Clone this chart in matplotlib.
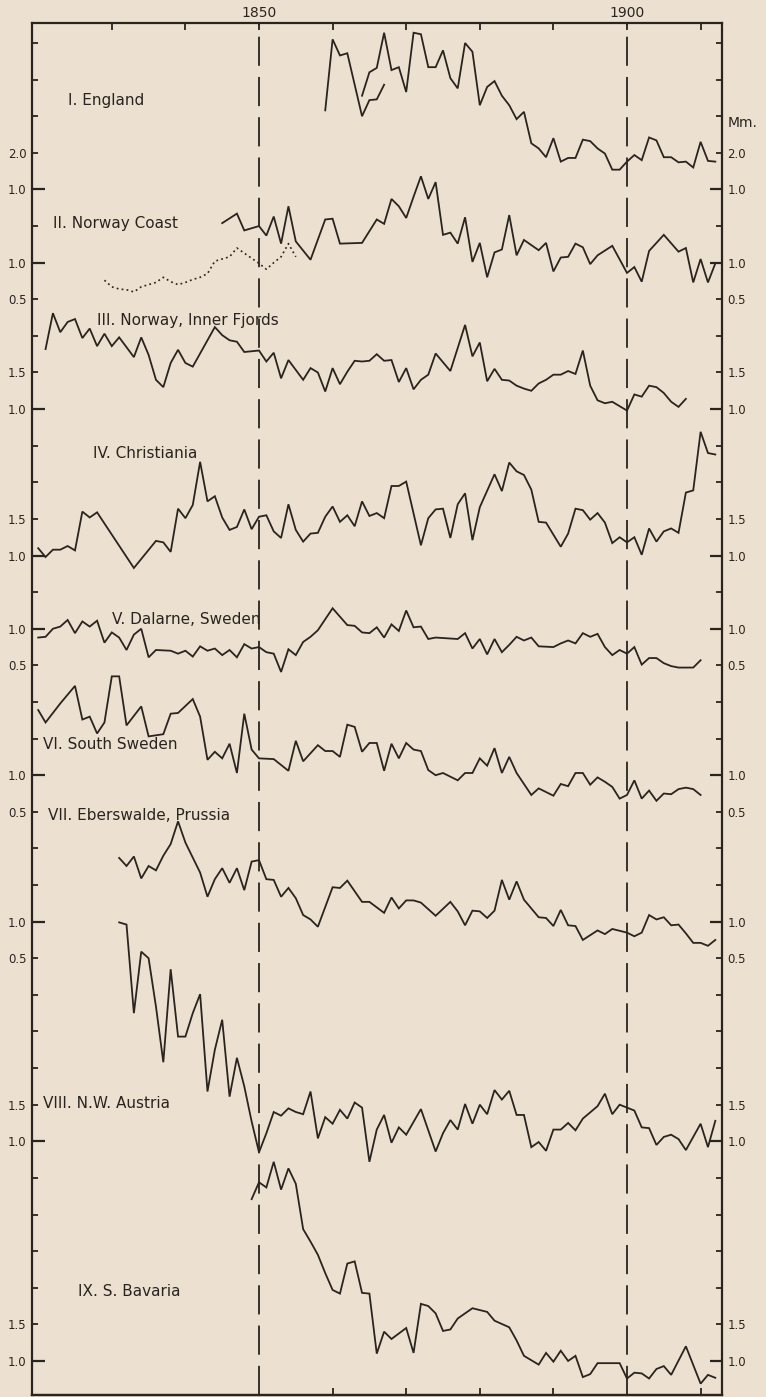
import matplotlib
matplotlib.use("Agg")
import matplotlib.pyplot as plt

plt.rcParams['font.family'] = ['DejaVu Sans']
plt.rcParams['lines.scale_dashes'] = False

# ---------------- data (ring width, mm) ----------------
england_a_years = [1859, 1860, 1861, 1862, 1864, 1865, 1866, 1867]
england_a_mm = [2.58, 3.55, 3.33, 3.36, 2.50, 2.72, 2.73, 2.93]

england_b_years = list(range(1864, 1913))
england_b_mm = [2.78, 3.10, 3.16, 3.64, 3.13, 3.17, 2.83, 3.64, 3.62, 3.17,
                3.17, 3.40, 3.02, 2.88, 3.50, 3.38, 2.65, 2.90, 2.98, 2.78,
                2.65, 2.46, 2.56, 2.13, 2.06, 1.94, 2.20, 1.88, 1.93, 1.93,
                2.18, 2.16, 2.06, 1.99, 1.77, 1.77, 1.88, 1.97, 1.90, 2.21,
                2.17, 1.94, 1.94, 1.87, 1.88, 1.80, 2.15, 1.89, 1.88]

coast_years = [1845, 1847, 1848, 1849, 1850, 1851, 1852, 1853, 1854, 1855,
               1857, 1859, 1860, 1861, 1864, 1866, 1867, 1868, 1869, 1870,
               1871, 1872, 1873, 1874, 1875, 1876, 1877, 1878, 1879, 1880,
               1881, 1882, 1883, 1884, 1885, 1886, 1888, 1889, 1890, 1891,
               1892, 1893, 1894, 1895, 1896, 1898, 1900, 1901, 1902, 1903,
               1905, 1907, 1908, 1909, 1910, 1911, 1912]
coast_mm = [1.54, 1.67, 1.44, 1.47, 1.50, 1.37, 1.63, 1.26, 1.77, 1.29,
            1.04, 1.59, 1.60, 1.26, 1.27, 1.59, 1.53, 1.87, 1.77, 1.61,
            1.90, 2.18, 1.87, 2.10, 1.38, 1.41, 1.26, 1.62, 1.01, 1.27,
            0.80, 1.14, 1.18, 1.65, 1.10, 1.31, 1.17, 1.27, 0.88, 1.07,
            1.08, 1.26, 1.21, 0.98, 1.10, 1.23, 0.86, 0.94, 0.74, 1.16,
            1.38, 1.15, 1.20, 0.73, 1.05, 0.73, 0.99]

coast_dotted_years = list(range(1829, 1856))
coast_dotted_mm = [0.76, 0.67, 0.64, 0.63, 0.60, 0.67, 0.70, 0.73, 0.80, 0.74,
                   0.70, 0.73, 0.77, 0.80, 0.85, 1.02, 1.05, 1.08, 1.20, 1.13,
                   1.06, 0.99, 0.91, 1.00, 1.08, 1.26, 1.08]

fjords_years = [1821, 1822, 1823, 1824, 1825, 1826, 1827, 1828, 1829, 1830,
                1831, 1833, 1834, 1835, 1836, 1837, 1838, 1839, 1840, 1841,
                1844, 1845, 1846, 1847, 1848, 1850, 1851, 1852, 1853, 1854,
                1856, 1857, 1858, 1859, 1860, 1861, 1862, 1863, 1864, 1865,
                1866, 1867, 1868, 1869, 1870, 1871, 1872, 1873, 1874, 1876,
                1878, 1879, 1880, 1881, 1882, 1883, 1884, 1885, 1886, 1887,
                1888, 1889, 1890, 1891, 1892, 1893, 1894, 1895, 1896, 1897,
                1898, 1900, 1901, 1902, 1903, 1904, 1905, 1906, 1907, 1908]
fjords_mm = [1.82, 2.31, 2.05, 2.19, 2.23, 1.97, 2.10, 1.86, 2.03, 1.86,
             1.98, 1.71, 1.98, 1.74, 1.40, 1.30, 1.63, 1.81, 1.63, 1.58,
             2.12, 2.01, 1.94, 1.92, 1.78, 1.80, 1.65, 1.77, 1.42, 1.67,
             1.40, 1.56, 1.50, 1.24, 1.56, 1.34, 1.51, 1.66, 1.65, 1.66,
             1.75, 1.66, 1.67, 1.37, 1.56, 1.27, 1.40, 1.47, 1.76, 1.52,
             2.15, 1.72, 1.91, 1.38, 1.55, 1.40, 1.39, 1.32, 1.28, 1.25,
             1.35, 1.40, 1.47, 1.47, 1.52, 1.48, 1.80, 1.32, 1.12, 1.08,
             1.10, 0.98, 1.20, 1.17, 1.32, 1.30, 1.22, 1.10, 1.03, 1.14]

christiania_years = [1820, 1821, 1822, 1823, 1824, 1825, 1826, 1827, 1828, 1833,
                     1836, 1837, 1838, 1839, 1840, 1841, 1842, 1843, 1844, 1845,
                     1846, 1847, 1848, 1849, 1850, 1851, 1852, 1853, 1854, 1855,
                     1856, 1857, 1858, 1859, 1860, 1861, 1862, 1863, 1864, 1865,
                     1866, 1867, 1868, 1869, 1870, 1872, 1873, 1874, 1875, 1876,
                     1877, 1878, 1879, 1880, 1882, 1883, 1884, 1885, 1886, 1887,
                     1888, 1889, 1891, 1892, 1893, 1894, 1895, 1896, 1897, 1898,
                     1899, 1900, 1901, 1902, 1903, 1904, 1905, 1906, 1907, 1908,
                     1909, 1910, 1911, 1912]
christiania_mm = [1.10, 0.98, 1.08, 1.08, 1.13, 1.07, 1.60, 1.52, 1.59, 0.83,
                  1.20, 1.18, 1.05, 1.64, 1.51, 1.69, 2.28, 1.74, 1.81, 1.52,
                  1.35, 1.39, 1.63, 1.36, 1.53, 1.55, 1.33, 1.24, 1.70, 1.35,
                  1.19, 1.30, 1.31, 1.53, 1.67, 1.46, 1.55, 1.40, 1.74, 1.54,
                  1.58, 1.51, 1.95, 1.95, 2.01, 1.14, 1.51, 1.63, 1.64, 1.24,
                  1.70, 1.85, 1.21, 1.66, 2.11, 1.88, 2.27, 2.15, 2.10, 1.90,
                  1.46, 1.45, 1.12, 1.30, 1.64, 1.62, 1.49, 1.58, 1.45, 1.17,
                  1.25, 1.18, 1.25, 1.01, 1.37, 1.19, 1.33, 1.37, 1.31, 1.86,
                  1.89, 2.69, 2.40, 2.38]

dalarne_years = [1820, 1821, 1822, 1823, 1824, 1825, 1826, 1827, 1828, 1829,
                 1830, 1831, 1832, 1833, 1834, 1835, 1836, 1838, 1839, 1840,
                 1841, 1842, 1843, 1844, 1845, 1846, 1847, 1848, 1849, 1850,
                 1851, 1852, 1853, 1854, 1855, 1856, 1857, 1858, 1860, 1862,
                 1863, 1864, 1865, 1866, 1867, 1868, 1869, 1870, 1871, 1872,
                 1873, 1874, 1877, 1878, 1879, 1880, 1881, 1882, 1883, 1884,
                 1885, 1886, 1887, 1888, 1890, 1891, 1892, 1893, 1894, 1895,
                 1896, 1897, 1898, 1899, 1900, 1901, 1902, 1903, 1904, 1905,
                 1906, 1907, 1909, 1910]
dalarne_mm = [0.88, 0.89, 1.00, 1.03, 1.12, 0.94, 1.10, 1.03, 1.11, 0.81,
              0.95, 0.88, 0.71, 0.92, 1.00, 0.61, 0.71, 0.70, 0.66, 0.70,
              0.62, 0.76, 0.70, 0.73, 0.64, 0.71, 0.61, 0.79, 0.73, 0.75,
              0.68, 0.66, 0.41, 0.72, 0.64, 0.82, 0.89, 0.98, 1.28, 1.05,
              1.04, 0.95, 0.94, 1.02, 0.88, 1.06, 0.97, 1.25, 1.02, 1.03,
              0.86, 0.88, 0.86, 0.94, 0.73, 0.86, 0.65, 0.86, 0.68, 0.78,
              0.89, 0.84, 0.88, 0.76, 0.75, 0.80, 0.84, 0.80, 0.94, 0.89,
              0.93, 0.75, 0.64, 0.71, 0.66, 0.75, 0.51, 0.60, 0.60, 0.53,
              0.49, 0.47, 0.47, 0.57]

s_sweden_years = [1820, 1821, 1822, 1823, 1825, 1826, 1827, 1828, 1829, 1830,
                  1831, 1832, 1834, 1835, 1837, 1838, 1839, 1841, 1842, 1843,
                  1844, 1845, 1846, 1847, 1848, 1849, 1850, 1852, 1854, 1855,
                  1856, 1858, 1859, 1860, 1861, 1862, 1863, 1864, 1865, 1866,
                  1867, 1868, 1869, 1870, 1871, 1872, 1873, 1874, 1875, 1877,
                  1878, 1879, 1880, 1881, 1882, 1883, 1884, 1885, 1886, 1887,
                  1888, 1890, 1891, 1892, 1893, 1894, 1895, 1896, 1897, 1898,
                  1899, 1900, 1901, 1902, 1903, 1904, 1905, 1906, 1907, 1908,
                  1909, 1910]
s_sweden_mm = [1.89, 1.72, 1.85, 1.98, 2.22, 1.76, 1.80, 1.57, 1.72, 2.35,
               2.35, 1.68, 1.94, 1.53, 1.56, 1.84, 1.85, 2.04, 1.80, 1.21,
               1.32, 1.23, 1.43, 1.03, 1.84, 1.35, 1.23, 1.22, 1.06, 1.47,
               1.19, 1.41, 1.33, 1.33, 1.25, 1.69, 1.66, 1.32, 1.44, 1.44,
               1.06, 1.43, 1.23, 1.44, 1.35, 1.33, 1.07, 1.00, 1.03, 0.93,
               1.03, 1.03, 1.23, 1.13, 1.37, 1.03, 1.25, 1.03, 0.88, 0.73,
               0.82, 0.72, 0.88, 0.85, 1.03, 1.03, 0.87, 0.97, 0.91, 0.84,
               0.68, 0.73, 0.93, 0.68, 0.79, 0.65, 0.75, 0.74, 0.81, 0.83,
               0.81, 0.73]

eberswalde_years = [1831, 1832, 1833, 1834, 1835, 1836, 1837, 1838, 1839, 1840,
                    1842, 1843, 1844, 1845, 1846, 1847, 1848, 1849, 1850, 1851,
                    1852, 1853, 1854, 1855, 1856, 1857, 1858, 1860, 1861, 1862,
                    1864, 1865, 1867, 1868, 1869, 1870, 1871, 1872, 1874, 1876,
                    1877, 1878, 1879, 1880, 1881, 1882, 1883, 1884, 1885, 1886,
                    1888, 1889, 1890, 1891, 1892, 1893, 1894, 1896, 1897, 1898,
                    1900, 1901, 1902, 1903, 1904, 1905, 1906, 1907, 1908, 1909,
                    1910, 1911, 1912]
eberswalde_mm = [1.87, 1.76, 1.89, 1.59, 1.76, 1.70, 1.90, 2.06, 2.37, 2.08,
                 1.67, 1.34, 1.58, 1.73, 1.53, 1.73, 1.43, 1.82, 1.84, 1.58,
                 1.57, 1.34, 1.46, 1.32, 1.09, 1.03, 0.93, 1.47, 1.46, 1.56,
                 1.27, 1.27, 1.12, 1.33, 1.18, 1.29, 1.29, 1.26, 1.08, 1.27,
                 1.14, 0.95, 1.15, 1.14, 1.05, 1.15, 1.57, 1.30, 1.55, 1.30,
                 1.06, 1.05, 0.94, 1.16, 0.95, 0.94, 0.75, 0.88, 0.83, 0.90,
                 0.85, 0.80, 0.85, 1.09, 1.03, 1.06, 0.95, 0.96, 0.84, 0.71,
                 0.71, 0.67, 0.75]

austria_years = [1831, 1832, 1833, 1834, 1835, 1836, 1837, 1838, 1839, 1840,
                 1841, 1842, 1843, 1844, 1845, 1846, 1847, 1848, 1849, 1850,
                 1851, 1852, 1853, 1854, 1855, 1856, 1857, 1858, 1859, 1860,
                 1861, 1862, 1863, 1864, 1865, 1866, 1867, 1868, 1869, 1870,
                 1872, 1874, 1875, 1876, 1877, 1878, 1879, 1880, 1881, 1882,
                 1883, 1884, 1885, 1886, 1887, 1888, 1889, 1890, 1891, 1892,
                 1893, 1894, 1896, 1897, 1898, 1899, 1901, 1902, 1903, 1904,
                 1905, 1906, 1907, 1908, 1909, 1910, 1911, 1912]
austria_mm = [3.99, 3.96, 2.75, 3.59, 3.50, 2.84, 2.08, 3.35, 2.43, 2.43,
              2.75, 3.01, 1.68, 2.25, 2.66, 1.61, 2.14, 1.75, 1.27, 0.85,
              1.11, 1.40, 1.35, 1.45, 1.40, 1.37, 1.68, 1.04, 1.33, 1.24,
              1.43, 1.31, 1.53, 1.46, 0.72, 1.16, 1.36, 0.98, 1.19, 1.09,
              1.44, 0.86, 1.11, 1.29, 1.16, 1.51, 1.24, 1.50, 1.37, 1.70,
              1.57, 1.69, 1.36, 1.36, 0.92, 0.99, 0.87, 1.16, 1.16, 1.25,
              1.15, 1.31, 1.48, 1.65, 1.37, 1.50, 1.42, 1.19, 1.18, 0.95,
              1.06, 1.09, 1.03, 0.88, 1.06, 1.24, 0.92, 1.28]

bavaria_years = [1849, 1850, 1851, 1852, 1853, 1854, 1855, 1856, 1857, 1858,
                 1859, 1860, 1861, 1862, 1863, 1864, 1865, 1866, 1867, 1868,
                 1870, 1871, 1872, 1873, 1874, 1875, 1876, 1877, 1879, 1881,
                 1882, 1884, 1885, 1886, 1888, 1889, 1890, 1891, 1892, 1893,
                 1894, 1895, 1896, 1899, 1900, 1901, 1902, 1903, 1904, 1905,
                 1906, 1908, 1910, 1911, 1912]
bavaria_mm = [3.21, 3.44, 3.37, 3.72, 3.34, 3.63, 3.42, 2.80, 2.63, 2.45,
              2.20, 1.97, 1.92, 2.33, 2.36, 1.93, 1.92, 1.10, 1.40, 1.30,
              1.45, 1.11, 1.78, 1.75, 1.65, 1.41, 1.43, 1.58, 1.72, 1.67,
              1.55, 1.46, 1.28, 1.07, 0.95, 1.11, 0.99, 1.14, 1.00, 1.07,
              0.78, 0.82, 0.97, 0.97, 0.76, 0.84, 0.83, 0.76, 0.89, 0.93,
              0.81, 1.20, 0.69, 0.81, 0.77]

series_labels = ["I. England", "II. Norway Coast", "III. Norway, Inner Fjords",
                 "IV. Christiania", "V. Dalarne, Sweden", "VI. South Sweden",
                 "VII. Eberswalde, Prussia", "VIII. N.W. Austria", "IX. S. Bavaria"]

scale_rows = [3, 4, 6, 7, 9, 10, 13, 14, 16, 17, 20, 21, 24, 25, 29, 30, 35, 36]
scale_text = ['2.0', '1.0', '1.0', '0.5', '1.5', '1.0', '1.5', '1.0', '1.0',
              '0.5', '1.0', '0.5', '1.0', '0.5', '1.5', '1.0', '1.5', '1.0']

# ---------------- layout / style ----------------
BG = '#ece1d0'
INK = '#2a2420'
W_PX, H_PX = 766, 1397

# row (in tick units, top->bottom) at which each series' 1.0 mm falls;
# 0.5 mm per tick row
base_row = {'england': 5, 'coast': 6, 'fjords': 10, 'christiania': 14,
            'dalarne': 16, 's_sweden': 20, 'eberswalde': 24, 'austria': 30,
            'bavaria': 36}


def rows(vals, key):
    return [base_row[key] - 2.0 * (v - 1.0) for v in vals]


fig = plt.figure(figsize=(W_PX / 100, H_PX / 100), dpi=100, facecolor=BG)
left, right, top, bottom = 32, 722, 23, 1395
ax = fig.add_axes([left / W_PX, 1 - bottom / H_PX,
                   (right - left) / W_PX, (bottom - top) / H_PX], facecolor=BG)

x0 = 1850 + (left - 259) / 7.36
x1 = 1850 + (right - 259) / 7.36
y_top = (top - 43) / 36.61
y_bot = (bottom - 43) / 36.61
ax.set_xlim(x0, x1)
ax.set_ylim(y_bot, y_top)

lw = 1.3
plot_kw = dict(color=INK, lw=lw, solid_joinstyle='miter')
ax.plot(england_a_years, rows(england_a_mm, 'england'), **plot_kw)
ax.plot(england_b_years, rows(england_b_mm, 'england'), **plot_kw)
ax.plot(coast_years, rows(coast_mm, 'coast'), **plot_kw)
ax.plot(coast_dotted_years, rows(coast_dotted_mm, 'coast'), color=INK,
        lw=1.2, dashes=(1.3, 2.3))
ax.plot(fjords_years, rows(fjords_mm, 'fjords'), **plot_kw)
ax.plot(christiania_years, rows(christiania_mm, 'christiania'), **plot_kw)
ax.plot(dalarne_years, rows(dalarne_mm, 'dalarne'), **plot_kw)
ax.plot(s_sweden_years, rows(s_sweden_mm, 's_sweden'), **plot_kw)
ax.plot(eberswalde_years, rows(eberswalde_mm, 'eberswalde'), **plot_kw)
ax.plot(austria_years, rows(austria_mm, 'austria'), **plot_kw)
ax.plot(bavaria_years, rows(bavaria_mm, 'bavaria'), **plot_kw)

# dashed reference lines
for yr in (1850, 1900):
    ax.axvline(yr, color=INK, lw=1.3, dashes=(21, 8))

# series labels
label_pos = [(1824.0, 1.56), (1822.0, 4.94), (1828.0, 7.57), (1827.4, 11.2),
             (1830.0, 15.76), (1820.7, 19.17), (1821.3, 21.09), (1820.7, 28.98),
             (1825.4, 34.09)]
for (lx, ly), txt in zip(label_pos, series_labels):
    ax.text(lx, ly, txt, fontsize=11, color=INK, ha='left', va='center')

# spines
for s in ax.spines.values():
    s.set_color(INK)
    s.set_linewidth(1.6)

# x ticks: decades on top with 1850 / 1900 labelled
decades = list(range(1830, 1911, 10))
ax.set_xticks(decades, ['1850' if d == 1850 else '1900' if d == 1900 else ''
                        for d in decades])
ax.tick_params(axis='x', which='major', top=True, bottom=False, labeltop=True,
               labelbottom=False, direction='in', length=5, width=1.3,
               color=INK, labelcolor=INK, labelsize=10, pad=2.5)
sec = ax.secondary_xaxis('bottom')
sec.set_xticks([1860, 1870, 1880, 1890, 1910], [''] * 5)
sec.tick_params(direction='in', length=5, width=1.3, color=INK)
sec.spines['bottom'].set_color(INK)
sec.spines['bottom'].set_linewidth(1.6)

# y ticks: a tick every row, long ticks at the 1.0 marks
major_rows = [r for r, t in zip(scale_rows, scale_text) if t == '1.0']
minor_rows = [r for r in range(0, 37) if r not in major_rows]
ax.set_yticks(major_rows, ['1.0'] * len(major_rows))
ax.set_yticks(minor_rows, [scale_text[scale_rows.index(r)] if r in scale_rows
                           else '' for r in minor_rows], minor=True)
ax.tick_params(axis='y', which='both', left=True, right=True, labelleft=True,
               labelright=True, direction='in', color=INK, labelcolor=INK,
               labelsize=8.5, pad=4)
ax.tick_params(axis='y', which='major', length=9, width=1.6)
ax.tick_params(axis='y', which='minor', length=4, width=1.3)

fig.text(728 / W_PX, 1 - 123 / H_PX, 'Mm.', fontsize=10, color=INK,
         ha='left', va='center')

fig.savefig('out.png', dpi=100, facecolor=BG)
